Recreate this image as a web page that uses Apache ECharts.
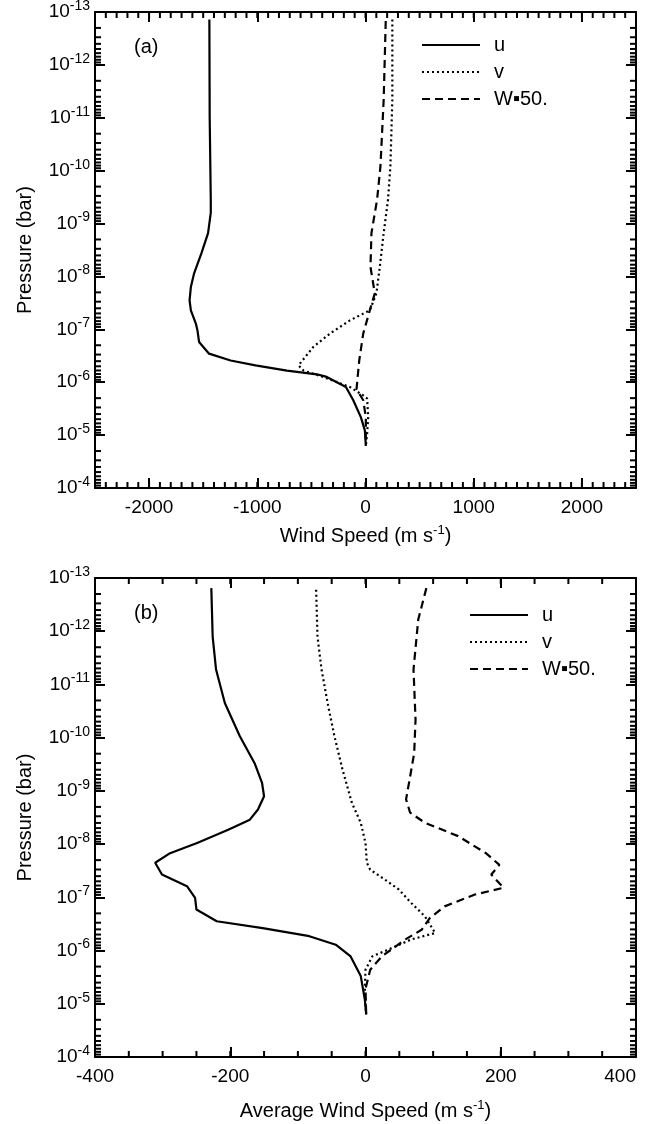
<!DOCTYPE html>
<html><head><meta charset="utf-8">
<script src="https://cdn.jsdelivr.net/npm/echarts@6/dist/echarts.min.js"></script>
<style>html,body{margin:0;padding:0;background:#fff}#c{width:645px;height:1124px}</style>
</head><body><div id="c"></div>
<script>
// ---- tick labels ----
const yExps = [-13,-12,-11,-10,-9,-8,-7,-6,-5,-4];
const xTicksA = [-2000,-1000,0,1000,2000];
const xTicksB = [-400,-200,0,200,400];
const legendNames = ['u','v','W\u25AA50.'];

// ---- panel (a): log10(pressure) and wind speed ----
const aU_logP = [-12.86,-11.0,-9.45,-9.2,-8.82,-8.44,-8.06,-7.80,-7.55,-7.36,-7.11,-6.98,-6.76,-6.54,-6.41,-6.32,-6.22,-6.15,-6.10,-5.91,-5.66,-5.34,-5.09,-4.80];
const aU      = [-1443,-1440,-1430,-1430,-1455,-1516,-1584,-1614,-1626,-1614,-1568,-1553,-1538,-1446,-1247,-1017,-726,-450,-358,-181,-113,-43,-6,3];
const aV_logP = [-12.86,-11.34,-10.08,-9.45,-8.82,-8.18,-7.68,-7.36,-7.17,-6.92,-6.67,-6.32,-6.22,-6.10,-5.91,-5.75,-5.69,-5.34,-5.02,-4.80];
const aV      = [248,248,230,208,168,132,101,40,-144,-328,-481,-619,-573,-389,-144,-21,15,25,15,3];
const aW_logP = [-12.83,-11.34,-10.08,-9.45,-8.82,-8.18,-7.68,-7.36,-6.92,-6.41,-5.87,-5.66,-5.34,-4.80];
const aW      = [187,168,138,107,55,46,86,40,-21,-58,-83,-21,3,3];

// ---- panel (b) ----
const bU_logP = [-12.81,-11.90,-11.28,-10.65,-10.03,-9.52,-9.15,-8.90,-8.65,-8.46,-8.27,-8.02,-7.83,-7.65,-7.43,-7.21,-6.99,-6.77,-6.55,-6.42,-6.27,-6.11,-5.89,-5.52,-5.08,-4.80];
const bU      = [-228,-226,-221,-208,-186,-164,-153,-150,-159,-171,-203,-249,-289,-311,-301,-264,-252,-250,-220,-152,-83,-44,-22,-7,-1,1];
const bV_logP = [-12.78,-11.90,-11.28,-10.65,-10.03,-9.40,-8.77,-8.40,-8.02,-7.65,-7.52,-7.33,-7.15,-6.89,-6.64,-6.33,-6.21,-6.02,-5.89,-5.64,-5.28,-4.80];
const bV      = [-73,-71,-65,-56,-46,-34,-20,-7,0,2,7,29,49,68,88,103,68,34,10,0,-1,1];
const bW_logP = [-12.81,-12.22,-11.28,-10.34,-9.71,-9.27,-8.84,-8.59,-8.40,-8.15,-7.83,-7.61,-7.43,-7.18,-7.05,-6.83,-6.61,-6.39,-6.21,-5.89,-5.64,-5.28,-4.80];
const bW      = [90,78,71,74,72,66,60,66,88,137,178,198,186,204,161,117,95,83,59,24,7,0,1];

const FONT = "'Liberation Sans', Arial, sans-serif";
const pow = e => Math.pow(10, e);
const pairs = (xs, ls) => xs.map((x, i) => [x, pow(ls[i])]);
const Y_RANGE = [pow(-13), pow(-4)];
const majorY = yExps.map(pow);
const minorY = [];
yExps.slice(0, -1).forEach(e => { for (let m = 2; m <= 9; m++) minorY.push(m * pow(e)); });
const minorXA = []; for (let v = -2500; v <= 2500; v += 100) minorXA.push(v);
const minorXB = []; for (let v = -400; v <= 400; v += 50) minorXB.push(v);

const lineAx = () => ({show: true, onZero: false, lineStyle: {color: '#000', width: 2}});

function xAx(grid, pos, min, max, ticks, labels, name, nameGap, alignMax) {
  const lab = {show: true, customValues: ticks, margin: 10, color: '#000', fontSize: 19, fontFamily: FONT, formatter: v => String(v)};
  if (alignMax) lab.alignMaxLabel = 'right';
  return {
    type: 'value', gridIndex: grid, position: pos, min: min, max: max,
    axisLine: lineAx(), splitLine: {show: false},
    axisTick: {show: true, inside: true, length: 10, customValues: ticks, lineStyle: {color: '#000', width: 2}},
    axisLabel: labels ? lab : {show: false},
    name: name || '', nameLocation: 'middle', nameGap: nameGap || 0,
    nameTextStyle: {color: '#000', fontSize: 20, fontFamily: FONT,
      rich: {t: {fontSize: 20, fontFamily: FONT, color: '#000'}, s: {fontSize: 13, fontFamily: FONT, color: '#000', padding: [0, 0, 11, 0]}}}
  };
}
function yAx(grid, pos, labels) {
  return {
    type: 'log', logBase: 10, gridIndex: grid, position: pos, min: Y_RANGE[0], max: Y_RANGE[1], inverse: true,
    axisLine: lineAx(), splitLine: {show: false},
    axisTick: {show: true, inside: true, length: 10, customValues: majorY, lineStyle: {color: '#000', width: 2}},
    axisLabel: labels ? {
      show: true, customValues: majorY, margin: 5, color: '#000', fontFamily: FONT,
      formatter: v => '{b|10}{s|' + Math.round(Math.log10(v)) + '}',
      rich: {b: {fontSize: 19, fontFamily: FONT, color: '#000'}, s: {fontSize: 14, fontFamily: FONT, color: '#000', padding: [0, 0, 12, 0]}}
    } : {show: false},
    name: labels ? 'Pressure (bar)' : '', nameLocation: 'middle', nameGap: 60,
    nameTextStyle: {color: '#000', fontSize: 20, fontFamily: FONT}
  };
}

// minor ticks on all four sides, placed through the axes' own scales
const MINOR_LEN = 6;
function minorTicks(xi, yi, xVals, xRange) {
  const data = [];
  xVals.forEach(v => data.push([v, Y_RANGE[1], 0]));
  minorY.forEach(v => data.push([xRange[0], v, 1]));
  const st = {stroke: '#000', lineWidth: 2, fill: null};
  return {
    type: 'custom', name: '_minor', coordinateSystem: 'cartesian2d', xAxisIndex: xi, yAxisIndex: yi,
    silent: true, clip: false, z: 10, animation: false, data: data,
    dimensions: ['x', 'y', 'k'], encode: {x: 0, y: 1},
    renderItem: (params, api) => {
      const kind = api.value(2);
      if (kind === 0) {
        const v = api.value(0);
        const b = api.coord([v, Y_RANGE[1]]);
        const t = api.coord([v, Y_RANGE[0]]);
        return {type: 'group', children: [
          {type: 'line', shape: {x1: b[0], y1: b[1], x2: b[0], y2: b[1] - MINOR_LEN}, style: st},
          {type: 'line', shape: {x1: t[0], y1: t[1], x2: t[0], y2: t[1] + MINOR_LEN}, style: st}
        ]};
      }
      const v = api.value(1);
      const l = api.coord([xRange[0], v]);
      const r = api.coord([xRange[1], v]);
      return {type: 'group', children: [
        {type: 'line', shape: {x1: l[0], y1: l[1], x2: l[0] + MINOR_LEN, y2: l[1]}, style: st},
        {type: 'line', shape: {x1: r[0], y1: r[1], x2: r[0] - MINOR_LEN, y2: r[1]}, style: st}
      ]};
    }
  };
}

const solid = {color: '#000', width: 2.2, type: 'solid'};
const dotted = {color: '#000', width: 2.2, type: [2, 3]};
const dashed = {color: '#000', width: 2.2, type: [8, 5]};
function ser(name, data, xi, yi, ls) {
  return {type: 'line', name: name, data: data, xAxisIndex: xi, yAxisIndex: yi,
    symbol: 'none', showSymbol: false, lineStyle: ls, itemStyle: {color: '#000'}, animation: false, z: 5};
}

const legendBase = () => ({
  orient: 'vertical', padding: 0, itemWidth: 58, itemHeight: 14, itemGap: 7,
  data: legendNames, selectedMode: false,
  itemStyle: {opacity: 0, color: 'transparent', borderWidth: 0},
  textStyle: {color: '#000', fontSize: 20, fontFamily: FONT, lineHeight: 18, padding: [0, 0, 0, 9]}
});

const option = {
  animation: false,
  backgroundColor: '#fff',
  title: [
    {text: '(a)', left: 134, top: 37, padding: 0, textStyle: {fontSize: 20, fontWeight: 'normal', color: '#000', fontFamily: FONT}},
    {text: '(b)', left: 134, top: 603, padding: 0, textStyle: {fontSize: 20, fontWeight: 'normal', color: '#000', fontFamily: FONT}}
  ],
  legend: [
    Object.assign(legendBase(), {left: 421, top: 35}),
    Object.assign(legendBase(), {left: 469, top: 605})
  ],
  grid: [
    {left: 95, top: 12, width: 541, height: 476, outerBoundsMode: 'none', containLabel: false},
    {left: 95, top: 578, width: 541, height: 479, outerBoundsMode: 'none', containLabel: false}
  ],
  xAxis: [
    xAx(0, 'bottom', -2500, 2500, xTicksA, true, '{t|Wind Speed (m s}{s|-1}{t|)}', 36, false),
    xAx(0, 'top', -2500, 2500, xTicksA, false),
    xAx(1, 'bottom', -400, 400, xTicksB, true, '{t|Average Wind Speed (m s}{s|-1}{t|)}', 42, true),
    xAx(1, 'top', -400, 400, xTicksB, false)
  ],
  yAxis: [
    yAx(0, 'left', true), yAx(0, 'right', false),
    yAx(1, 'left', true), yAx(1, 'right', false)
  ],
  series: [
    ser(legendNames[0], pairs(aU, aU_logP), 0, 0, solid),
    ser(legendNames[1], pairs(aV, aV_logP), 0, 0, dotted),
    ser(legendNames[2], pairs(aW, aW_logP), 0, 0, dashed),
    ser(legendNames[0], pairs(bU, bU_logP), 2, 2, solid),
    ser(legendNames[1], pairs(bV, bV_logP), 2, 2, dotted),
    ser(legendNames[2], pairs(bW, bW_logP), 2, 2, dashed),
    minorTicks(0, 0, minorXA, [-2500, 2500]),
    minorTicks(2, 2, minorXB, [-400, 400])
  ]
};
const chart = echarts.init(document.getElementById('c'), null, {renderer: 'canvas'});
chart.setOption(option);
</script></body></html>
